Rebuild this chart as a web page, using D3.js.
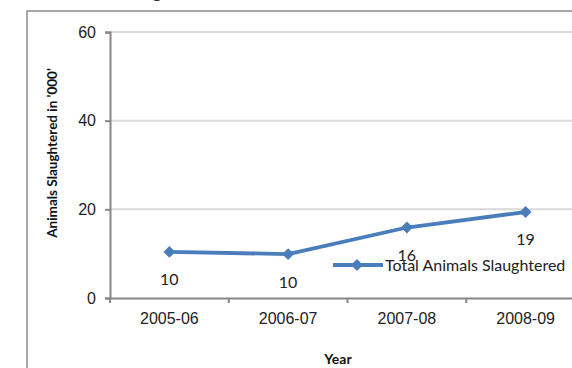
<!DOCTYPE html>
<html><head><meta charset="utf-8">
<script src="https://cdn.jsdelivr.net/npm/d3@7"></script>
<style>body{margin:0;background:#fff;}svg{display:block;font-family:Lato,"Open Sans",sans-serif;}</style>
</head><body>
<svg id="c" width="572" height="368"></svg>
<script>
const categories = ["2005-06","2006-07","2007-08","2008-09"];
const values = [10.4, 9.9, 15.9, 19.4];
const labels = ["10","10","16","19"];
const yTicks = [0,20,40,60];
const seriesName = "Total Animals Slaughtered";

(function(){
const svg = d3.select("#c");
// chart frame
svg.append("rect").attr("x",27).attr("y",11).attr("width",600).attr("height",400)
  .attr("fill","none").attr("stroke","#8c8c8c").attr("stroke-width",1.5);
// partially visible title
svg.append("text").attr("x",157).attr("y",-2).attr("text-anchor","middle")
  .attr("font-size",18).attr("font-weight","bold").attr("fill","#333").text("g");

const pl=110, pr=585, pt=32, pb=298;
const fs = 16;
const x = d3.scaleBand().domain(categories).range([pl,pr]).padding(0);
const y = d3.scaleLinear().domain([0,60]).range([pb,pt]);

// gridlines
svg.append("g").selectAll("line").data(yTicks.filter(d=>d>0)).join("line")
  .attr("x1",pl).attr("x2",pr).attr("y1",d=>y(d)).attr("y2",d=>y(d))
  .attr("stroke","#d9d9d9").attr("stroke-width",2);

// y axis
const ya = svg.append("g").attr("transform",`translate(${pl},0)`)
  .call(d3.axisLeft(y).tickValues(yTicks).tickSize(5).tickPadding(9));
ya.select(".domain").attr("stroke","#868686").attr("stroke-width",2);
ya.selectAll(".tick line").attr("stroke","#868686").attr("stroke-width",2);
ya.selectAll("text").attr("font-size",fs).attr("fill","#222");

// x axis
const xa = svg.append("g").attr("transform",`translate(0,${pb})`)
  .call(d3.axisBottom(x).tickSize(0).tickPadding(15));
xa.select(".domain").attr("stroke","#868686").attr("stroke-width",2);
xa.selectAll(".tick line").remove();
xa.selectAll("text").attr("font-size",fs).attr("fill","#222");
// boundary ticks
const edges = categories.map(c=>x(c));
svg.append("g").selectAll("line").data(edges).join("line")
  .attr("x1",d=>d).attr("x2",d=>d).attr("y1",pb).attr("y2",pb+5)
  .attr("stroke","#868686").attr("stroke-width",2);

// axis titles
svg.append("text").attr("transform",`translate(57,153) rotate(-90)`).attr("text-anchor","middle")
  .attr("font-size",13.5).attr("font-weight","bold").attr("fill","#111").text("Animals Slaughtered in '000'");
svg.append("text").attr("x",338).attr("y",364).attr("text-anchor","middle")
  .attr("font-size",14).attr("font-weight","bold").attr("fill","#111").text("Year");

const color = "#4a7ebb";
const cx = d=>x(d)+x.bandwidth()/2;
const line = d3.line().x((d,i)=>cx(categories[i])).y(d=>y(d));
svg.append("path").datum(values).attr("d",line).attr("fill","none")
  .attr("stroke",color).attr("stroke-width",3.8).attr("stroke-linejoin","round");
const diamond = d3.symbol().type(d3.symbolDiamond2).size(90);
svg.append("g").selectAll("path").data(values).join("path")
  .attr("transform",(d,i)=>`translate(${cx(categories[i])},${y(d)})`)
  .attr("d",diamond).attr("fill",color);

// data labels
const labelOffsets = [33, 34, 33, 33];
svg.append("g").selectAll("text").data(values).join("text")
  .attr("x",(d,i)=>cx(categories[i])).attr("y",(d,i)=>y(d)+labelOffsets[i])
  .attr("text-anchor","middle").attr("font-size",fs).attr("fill","#222")
  .text((d,i)=>labels[i]);

// legend
const lg = svg.append("g").attr("transform","translate(333,265)");
lg.append("line").attr("x1",0).attr("x2",50).attr("y1",0).attr("y2",0)
  .attr("stroke",color).attr("stroke-width",3.8);
lg.append("path").attr("transform","translate(24,0)").attr("d",diamond).attr("fill",color);
lg.append("text").attr("x",52).attr("y",6).attr("font-size",fs).attr("fill","#222").text(seriesName);
})();
</script>
</body></html>
